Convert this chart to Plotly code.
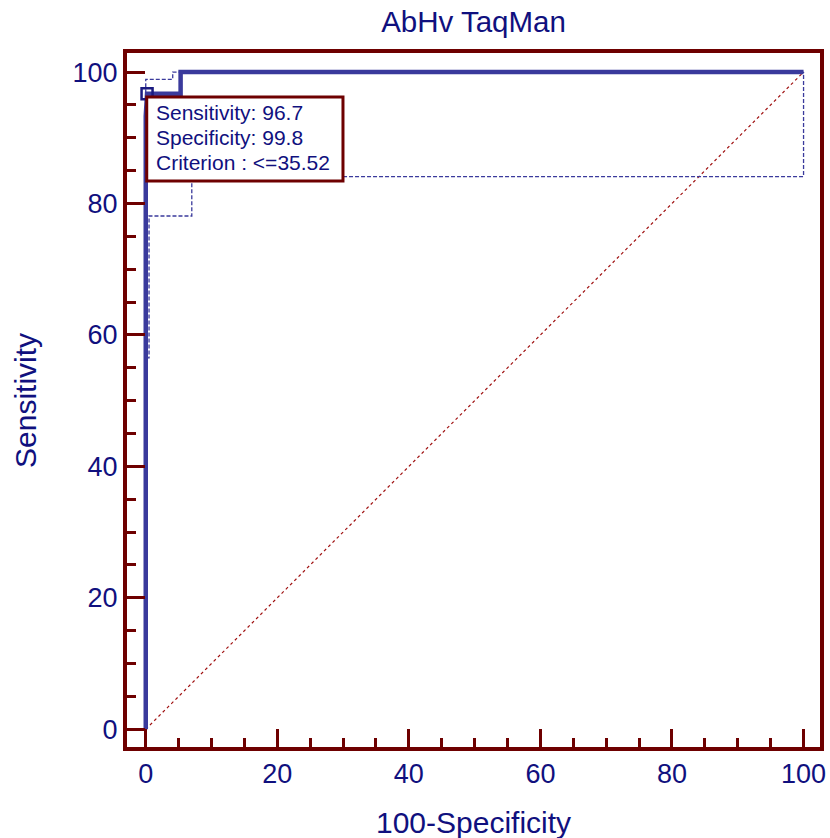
import plotly.graph_objects as go

# ROC curve (100-Specificity, Sensitivity)
roc_x = [0, 0, 0.2, 5.3, 5.3, 100]
roc_y = [0, 93.3, 96.7, 96.7, 100, 100]

# Confidence bounds
lower_x = [0, 0, 0.5, 0.5, 7.0, 7.0, 100, 100]
lower_y = [0, 56.5, 56.5, 78.1, 78.1, 84.1, 84.1, 100]
upper_x = [0, 0, 4.1, 4.1, 100]
upper_y = [0, 98.9, 98.9, 100, 100]

# Reference diagonal
diag_x = [0, 100]
diag_y = [0, 100]

# Optimal criterion point
cut_x = [0.2]
cut_y = [96.7]
box_lines = ["Sensitivity: 96.7", "Specificity: 99.8", "Criterion : <=35.52"]

title_text = "AbHv TaqMan"
x_title = "100-Specificity"
y_title = "Sensitivity"
tick_vals = [0, 20, 40, 60, 80, 100]

NAVY = "#10107e"
CURVE = "#3a3a9c"
FRAME = "#6e0000"
FONT = "Liberation Sans, Arial, sans-serif"

ML, MR, MT, MB = 127, 10, 53, 91
W, H = 830, 838
PW, PH = W - ML - MR, H - MT - MB
X_RANGE = [-2.85, 102.5]
Y_RANGE = [-2.7, 102.9]
PX = 6.57  # pixels per data unit (both axes)

fig = go.Figure()
fig.add_trace(go.Scatter(x=diag_x, y=diag_y, mode="lines",
                         line=dict(color="#a01010", width=1.2, dash="dot"),
                         hoverinfo="skip", showlegend=False))
fig.add_trace(go.Scatter(x=lower_x, y=lower_y, mode="lines",
                         line=dict(color=CURVE, width=1.3, dash="4px,2px"),
                         showlegend=False))
fig.add_trace(go.Scatter(x=upper_x, y=upper_y, mode="lines",
                         line=dict(color=CURVE, width=1.3, dash="4px,2px"),
                         showlegend=False))
fig.add_trace(go.Scatter(x=roc_x, y=roc_y, mode="lines",
                         line=dict(color=CURVE, width=4.5),
                         showlegend=False))
fig.add_trace(go.Scatter(x=cut_x, y=cut_y, mode="markers",
                         marker=dict(symbol="square-open", size=11, color="#1a1a80",
                                     line=dict(width=2.5, color="#1a1a80")),
                         showlegend=False))

# Info box anchored just to the lower right of the criterion point
bx0 = cut_x[0] - 0.05
by0 = cut_y[0] - 0.5
bx1 = bx0 + 196 / PX
by1 = by0 - 84 / PX
fig.add_shape(type="rect", xref="x", yref="y", x0=bx0, x1=bx1, y0=by1, y1=by0,
              fillcolor="white", line=dict(color=FRAME, width=3), layer="above")
for i, txt in enumerate(box_lines):
    fig.add_annotation(x=bx0 + 7 / PX, y=by0 - (15 + 25 * i) / PX, xref="x", yref="y",
                       xanchor="left", yanchor="middle", text=txt, showarrow=False,
                       font=dict(family=FONT, size=21, color=NAVY))

axis_common = dict(
    showgrid=False, zeroline=False, showline=True, linecolor=FRAME, linewidth=4,
    mirror=True, ticks="inside", ticklen=18, tickwidth=3, tickcolor=FRAME,
    tickvals=tick_vals, tickfont=dict(family=FONT, size=27, color=NAVY),
    minor=dict(dtick=5, ticks="inside", ticklen=9, tickwidth=2.5, tickcolor=FRAME),
    layer="above traces", automargin=False,
)

# Axis titles as paper-referenced annotations
fig.add_annotation(x=0.5, y=(H - MB - 822) / PH, xref="paper", yref="paper",
                   xanchor="center", yanchor="middle", text=x_title, showarrow=False,
                   font=dict(family=FONT, size=30, color=NAVY))
fig.add_annotation(x=(25 - ML) / PW, y=0.5, xref="paper", yref="paper",
                   xanchor="center", yanchor="middle", text=y_title, showarrow=False,
                   textangle=-90, font=dict(family=FONT, size=30, color=NAVY))

fig.update_layout(
    width=W, height=H,
    margin=dict(l=ML, r=MR, t=MT, b=MB, autoexpand=False),
    paper_bgcolor="white", plot_bgcolor="white",
    title=dict(text=title_text, xref="paper", x=0.5, xanchor="center",
               yref="container", y=1 - 22 / H, yanchor="middle",
               font=dict(family=FONT, size=29.5, color=NAVY)),
    xaxis=dict(range=X_RANGE, **axis_common),
    yaxis=dict(range=Y_RANGE, **axis_common),
)

fig.write_html("out.html")
